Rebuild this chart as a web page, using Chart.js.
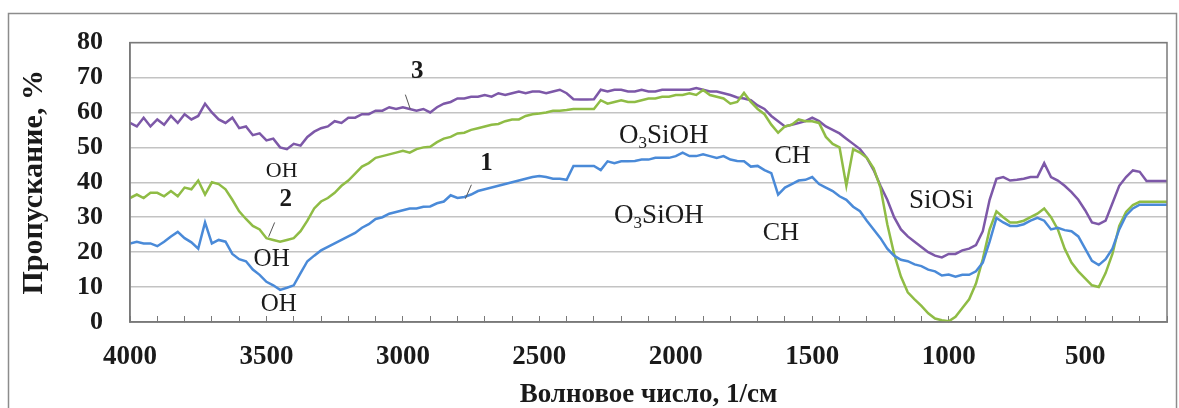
<!DOCTYPE html>
<html>
<head>
<meta charset="utf-8">
<script src="https://cdn.jsdelivr.net/npm/chart.js@4.4.1/dist/chart.umd.min.js"></script>
<style>
html,body{margin:0;padding:0;background:#fff;}
#c{display:block;}
</style>
</head>
<body>
<canvas id="c" width="1179" height="408"></canvas>
<script>
// ---- DATA ----
const wavenumbers = [
4000,3975,3950,3925,3900,3875,3850,3825,3800,3775,3750,3725,3700,3675,3650,3625,3600,3575,3550,3525,
3500,3475,3450,3425,3400,3375,3350,3325,3300,3275,3250,3225,3200,3175,3150,3125,3100,3075,3050,3025,
3000,2975,2950,2925,2900,2875,2850,2825,2800,2775,2750,2725,2700,2675,2650,2625,2600,2575,2550,2525,
2500,2475,2450,2425,2400,2375,2350,2325,2300,2275,2250,2225,2200,2175,2150,2125,2100,2075,2050,2025,
2000,1975,1950,1925,1900,1875,1850,1825,1800,1775,1750,1725,1700,1675,1650,1625,1600,1575,1550,1525,
1500,1475,1450,1425,1400,1375,1350,1325,1300,1275,1250,1225,1200,1175,1150,1125,1100,1075,1050,1025,
1000,975,950,925,900,875,850,825,800,775,750,725,700,675,650,625,600,575,550,525,
500,475,450,425,400,375,350,325,300,275,250,225,200
];
const series1 = [
22.5,23,22.5,22.5,21.7,23,24.5,25.8,24,22.8,21,28.5,22.5,23.5,23,19.5,18,17.4,15,13.5,
11.5,10.5,9.2,9.8,10.5,14,17.4,19,20.5,21.5,22.5,23.5,24.5,25.5,27,28,29.5,30,31,31.5,
32,32.5,32.5,33,33.1,34,34.5,36.3,35.5,35.8,36.5,37.5,38,38.5,39,39.5,40,40.5,41,41.5,
41.8,41.5,41,41,40.7,44.7,44.7,44.7,44.7,43.5,46,45.5,46,46,46.1,46.5,46.5,47,47,47,
47.5,48.5,47.5,47.5,48,47.5,47,47.5,46.5,46.1,46,44.5,44.7,43.5,42.6,36.5,38.5,39.5,40.5,40.7,
41.5,39.5,38.5,37.5,36,35,33,31.7,29,26.5,24,21,19,17.8,17.4,16.5,16,15,14.5,13.3,
13.6,13,13.5,13.5,14.5,17,23,29.8,28.5,27.5,27.5,28,29,29.8,29,26.5,27,26.3,26,24.5,
21,17.5,16.3,18,21,26.5,30.5,32.5,33.6,33.6,33.6,33.6,33.6
];
const series2 = [
35.5,36.5,35.5,37,37,36,37.5,36,38.5,38,40.5,36.5,40,39.5,38,35,31.7,29.5,27.5,26.5,
24,23.5,23,23.5,24,26,29,32.5,34.5,35.5,37,39,40.5,42.5,44.5,45.5,47,47.5,48,48.5,
49,48.5,49.5,50,50.2,51.5,52.5,53,54,54.2,55,55.5,56,56.5,56.7,57.5,58,58,59,59.5,
59.7,60,60.5,60.5,60.7,61,61,61,61,63.5,62.5,63,63.5,63,63,63.5,64,64,64.5,64.5,
65,65,65.5,65,66.4,65,64.5,64,62.5,63,65.6,63,61,59.5,56.5,54.2,56,56.5,58,57.5,
57.5,57,53,51,50,39,49.5,48.5,47,44,38.5,28,19.5,13,8.5,6.5,4.6,2.5,1,0.5,
0.2,1.5,4,6.5,11,18,26.5,31.7,30,28.5,28.5,29,30,31,32.5,30,26.5,21,17,14.5,
12.5,10.5,10,14,19.5,27.5,31.5,33.5,34.4,34.4,34.4,34.4,34.4
];
const series3 = [
57,56,58.5,56,58,56.5,59,57,59.5,58,59,62.5,60,58,57,58.5,55.5,56,53.5,54,
52,52.5,50,49.5,51,50.5,53,54.5,55.5,56,57.5,57,58.5,58.5,59.5,59.5,60.5,60.5,61.5,61,
61.5,61,60.5,61,60,61.5,62.5,63,64,64,64.5,64.5,65,64.5,65.5,65,65.5,66,65.5,66,
66,65.5,66,66.5,65.5,63.8,63.7,63.7,63.8,66.5,66,66.5,66.5,66,66,66.5,66,66,66.5,66.5,
66.5,66.5,66.5,67,66.5,66,66,65.5,65,64.3,64,63.5,62,61,59,57.5,56,56.5,57,57.5,
58.5,57.5,56,55,54,52.5,51,49.5,47,43.5,39,35,30,26.5,24.5,23,21.5,20,19,18.5,
19.5,19.5,20.5,21,22,26,35,41,41.5,40.5,40.7,41,41.5,41.5,45.5,41.5,40.5,39,37.2,35,
32,28.5,28,29,34,39,41.5,43.4,43,40.4,40.4,40.4,40.4
];
const yTicks = [0,10,20,30,40,50,60,70,80];
const xLabelValues = [4000,3500,3000,2500,2000,1500,1000,500];

// ---- ANNOTATIONS (text and their places in data units) ----
const notes = [
  {text:'3', w:2947, v:71.6, bold:true, size:25},
  {text:'2', w:3429, v:35.0, bold:true, size:25},
  {text:'1', w:2694, v:45.3, bold:true, size:25},
  {text:'OH', w:3444, v:43.1, size:22},
  {text:'OH', w:3481, v:17.9, size:25},
  {text:'OH', w:3455, v:4.9, size:25},
  {text:'CH', w:1572, v:47.5, size:26},
  {text:'CH', w:1615, v:25.5, size:26},
  {text:'SiOSi', w:1027, v:34.7, size:27}
];
const subNotes = [
  {parts:['O','3','SiOH'], w:2208, v:53.4, size:27},
  {parts:['O','3','SiOH'], w:2226, v:30.4, size:27}
];
const leaders = [
  {w1:2991, v1:65.1, w2:2973, v2:61.0},
  {w1:3470, v1:28.5, w2:3492, v2:24.4},
  {w1:2749, v1:39.3, w2:2771, v2:35.3}
];

const SERIF = '"Liberation Serif","Times New Roman",serif';

function pts(arr){ return wavenumbers.map((w,i)=>({x:w, y:arr[i]})); }

const framePlugin = {
  id:'frame',
  beforeDraw(chart){
    const ctx = chart.ctx;
    ctx.save();
    ctx.fillStyle = '#fff';
    ctx.fillRect(0,0,chart.width,chart.height);
    ctx.strokeStyle = '#8c8c8c';
    ctx.lineWidth = 1.5;
    ctx.strokeRect(8.5, 13.5, 1168, 420);
    ctx.restore();
  },
  afterDraw(chart){
    const a = chart.chartArea, ctx = chart.ctx;
    ctx.save();
    ctx.strokeStyle = '#7a7a7a';
    ctx.lineWidth = 1.5;
    ctx.strokeRect(a.left, a.top, a.right-a.left, a.bottom-a.top);
    ctx.restore();
  }
};

const notePlugin = {
  id:'notes',
  afterDatasetsDraw(chart){
    const ctx = chart.ctx, xs = chart.scales.x, ys = chart.scales.y;
    ctx.save();
    ctx.fillStyle = '#1a1a1a';
    ctx.textBaseline = 'middle';
    ctx.textAlign = 'center';
    notes.forEach(n=>{
      ctx.font = (n.bold?'bold ':'') + n.size + 'px ' + SERIF;
      ctx.fillText(n.text, xs.getPixelForValue(n.w), ys.getPixelForValue(n.v));
    });
    ctx.textAlign = 'left';
    subNotes.forEach(n=>{
      let x = xs.getPixelForValue(n.w);
      const y = ys.getPixelForValue(n.v);
      ctx.font = n.size + 'px ' + SERIF;
      ctx.fillText(n.parts[0], x, y);
      x += ctx.measureText(n.parts[0]).width;
      ctx.font = Math.round(n.size*0.62) + 'px ' + SERIF;
      ctx.fillText(n.parts[1], x, y + n.size*0.28);
      x += ctx.measureText(n.parts[1]).width;
      ctx.font = n.size + 'px ' + SERIF;
      ctx.fillText(n.parts[2], x, y);
    });
    ctx.strokeStyle = '#555';
    ctx.lineWidth = 1;
    leaders.forEach(l=>{
      ctx.beginPath();
      ctx.moveTo(xs.getPixelForValue(l.w1), ys.getPixelForValue(l.v1));
      ctx.lineTo(xs.getPixelForValue(l.w2), ys.getPixelForValue(l.v2));
      ctx.stroke();
    });
    ctx.restore();
  }
};

new Chart(document.getElementById('c'), {
  type:'line',
  data:{
    datasets:[
      {label:'1', data:pts(series1), borderColor:'#4a8ad8', borderWidth:2.5, pointRadius:0, tension:0, fill:false},
      {label:'2', data:pts(series2), borderColor:'#8fbc45', borderWidth:2.5, pointRadius:0, tension:0, fill:false},
      {label:'3', data:pts(series3), borderColor:'#7d58a8', borderWidth:2.5, pointRadius:0, tension:0, fill:false}
    ]
  },
  options:{
    responsive:false,
    animation:false,
    events:[],
    layout:{padding:{left:10, top:27, right:12, bottom:0}},
    plugins:{legend:{display:false}, tooltip:{enabled:false}},
    scales:{
      x:{
        type:'linear', reverse:true, min:200, max:4000,
        afterFit(s){ s.height = 86; s.paddingLeft = 0; s.paddingRight = 0; },
        afterBuildTicks(s){
          const t=[]; for(let v=4000; v>=200; v-=100) t.push({value:v});
          s.ticks = t;
        },
        ticks:{
          autoSkip:false, maxRotation:0, padding:25,
          color:'#1a1a1a',
          font:{family:SERIF, size:27, weight:'bold'},
          callback(v){ return xLabelValues.includes(v) ? String(v) : ''; }
        },
        grid:{drawOnChartArea:false, drawTicks:true, tickLength:-6, color:'#7a7a7a', lineWidth:1},
        border:{display:true, color:'#7a7a7a', width:1.5},
        title:{display:true, text:'Волновое число, 1/см', color:'#1a1a1a',
               font:{family:SERIF, size:27, weight:'bold'}, padding:{top:0,bottom:-3}}
      },
      y:{
        min:0, max:80,
        afterFit(s){ s.width = 120; },
        afterBuildTicks(s){ s.ticks = yTicks.map(v=>({value:v})); },
        ticks:{autoSkip:false, padding:27, color:'#1a1a1a', font:{family:SERIF, size:26, weight:'bold'}},
        grid:{drawTicks:false, color:'#c3c3c3', lineWidth:1.5},
        border:{display:true, color:'#7a7a7a', width:1.5},
        title:{display:true, text:'Пропускание, %', color:'#1a1a1a',
               font:{family:SERIF, size:30, weight:'bold'}, padding:{top:6,bottom:0}}
      }
    }
  },
  plugins:[framePlugin, notePlugin]
});
</script>
</body>
</html>
